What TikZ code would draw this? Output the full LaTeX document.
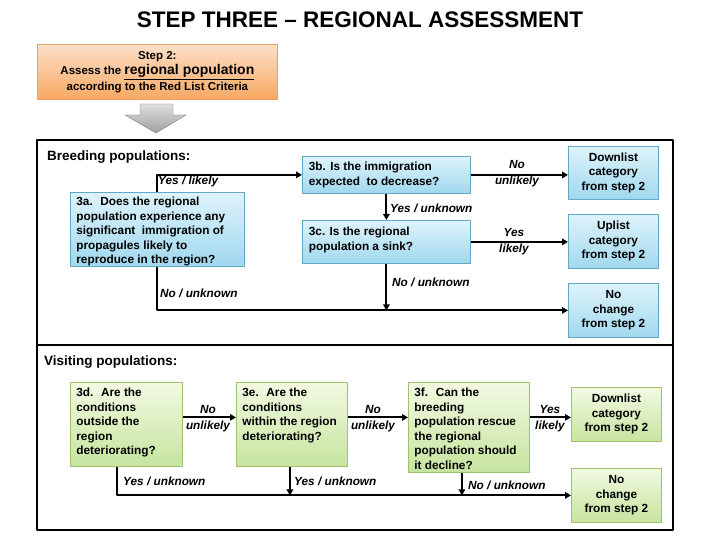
\documentclass[tikz,border=0pt]{standalone}
\usepackage{fontspec}
\setmainfont{Liberation Sans}
\usetikzlibrary{arrows.meta}
\definecolor{bluetop}{RGB}{222,243,251}
\definecolor{bluebot}{RGB}{160,216,238}
\definecolor{blueedge}{RGB}{100,168,200}
\definecolor{greentop}{RGB}{242,249,226}
\definecolor{greenbot}{RGB}{198,228,158}
\definecolor{greenedge}{RGB}{158,194,110}
\definecolor{orangetop}{RGB}{252,224,200}
\definecolor{orangebot}{RGB}{247,168,98}
\definecolor{orangeedge}{RGB}{236,160,100}
\definecolor{greytop}{RGB}{222,222,222}
\definecolor{greybot}{RGB}{160,160,160}
\definecolor{greyedge}{RGB}{120,120,120}
\newcommand{\boxfont}{\fontsize{11.8}{14.5}\selectfont\bfseries}
\newcommand{\qtext}[3]{\parbox[c][#2pt][t]{#1pt}{\raggedright #3}}
\begin{document}
\begin{tikzpicture}[x=1pt, y=-1pt, line join=round, >={Triangle[length=6pt,width=6.5pt]}]
\tikzset{
  box/.style={draw, line width=0.8pt, anchor=north west, inner sep=0pt, font=\boxfont},
  bluebox/.style={box, draw=blueedge, top color=bluetop, bottom color=bluebot},
  greenbox/.style={box, draw=greenedge, top color=greentop, bottom color=greenbot},
  resblue/.style={bluebox, align=center, minimum width=90, minimum height=53},
  resgreen/.style={greenbox, align=center, minimum width=90, minimum height=54},
  stepbox/.style={box, draw=orangeedge, top color=orangetop, bottom color=orangebot, align=center,
    font=\fontsize{11.5}{15.5}\selectfont\bfseries},
  heading/.style={anchor=west, inner sep=0pt, font=\fontsize{13.5}{16}\selectfont\bfseries},
  lbl/.style={anchor=west, inner sep=0pt, font=\fontsize{11.8}{14}\selectfont\bfseries\itshape},
  lbltwo/.style={inner sep=0pt, align=center, font=\fontsize{11.8}{16}\selectfont\bfseries\itshape},
  conn/.style={line width=2pt, ->}
}
\useasboundingbox[fill=white] (0,0) rectangle (720,540);

% title and step 2
\node[font=\fontsize{22.5}{26}\selectfont\bfseries] (title) at (360,20) {STEP THREE – REGIONAL ASSESSMENT};
\node[stepbox, minimum width=240, minimum height=55] (step2) at (37,44)
  {Step 2:\\Assess the {\fontsize{14}{15.5}\selectfont\underline{regional population}}\\according to the Red List Criteria};
\draw[draw=greyedge, top color=greytop, bottom color=greybot] (140,104) -- (173,104) -- (173,115) -- (186,115)
  -- (156,133) -- (125,115) -- (140,115) -- cycle;

% frames
\draw[line width=2pt] (37,140) rectangle (673,345);
\draw[line width=2pt] (37,345) rectangle (673,530);

% breeding populations
\node[heading] (hbreed) at (47,157) {Breeding populations:};
\node[bluebox, minimum width=174, minimum height=74] (q3a) at (70,192)
  {\qtext{162}{64}{3a.~ Does the regional\\population experience any\\significant~ immigration of\\propagules likely to\\reproduce in the region?}};
\node[bluebox, minimum width=168, minimum height=37] (q3b) at (302,156)
  {\qtext{155}{25}{3b. Is the immigration\\expected~ to decrease?}};
\node[bluebox, minimum width=168, minimum height=43] (q3c) at (302,220)
  {\qtext{155}{29}{3c. Is the regional\\population a sink?}};
\node[resblue] (dl1) at (568,146) {Downlist\\category\\from step 2};
\node[resblue, minimum height=54] (ul1) at (568,214) {Uplist\\category\\from step 2};
\node[resblue, minimum height=54] (nc1) at (568,283) {No\\change\\from step 2};

\draw[conn] (q3a.north) |- (q3b.west);
\draw[conn] (q3b.east) -- (q3b.east -| dl1.west);
\draw[conn] (q3b.south) -- (q3c.north);
\draw[conn] (q3c.east) -- (q3c.east -| ul1.west);
\draw[conn] (q3a.south) |- (nc1.west);
\draw[conn] (q3c.south) -- (q3c.south |- nc1.west);

\node[lbl] (l3ay) at (158,181) {Yes / likely};
\node[lbltwo] (l3bn) at (517,174) {No\\unlikely};
\node[lbl] (l3by) at (390,208) {Yes / unknown};
\node[lbltwo] (l3cy) at (514,242) {Yes\\likely};
\node[lbl] (l3cn) at (392,282) {No / unknown};
\node[lbl] (l3an) at (160,293) {No / unknown};

% visiting populations
\node[heading] (hvisit) at (44,362) {Visiting populations:};
\node[greenbox, minimum width=112, minimum height=84] (q3d) at (70,382)
  {\qtext{100}{72}{3d.~ Are the\\conditions\\outside the\\region\\deteriorating?}};
\node[greenbox, minimum width=111, minimum height=84] (q3e) at (236,382)
  {\qtext{99}{72}{3e.~ Are the\\conditions\\within the region\\deteriorating?}};
\node[greenbox, minimum width=121, minimum height=90] (q3f) at (408,382)
  {\qtext{109}{78}{3f.~ Can the\\breeding\\population rescue\\the regional\\population should\\it decline?}};
\node[resgreen] (dl2) at (571,387) {Downlist\\category\\from step 2};
\node[resgreen] (nc2) at (571,468) {No\\change\\from step 2};

\draw[conn] ([yshift=7pt]q3d.east) -- ([yshift=7pt]q3d.east -| q3e.west);
\draw[conn] ([yshift=7pt]q3e.east) -- ([yshift=7pt]q3e.east -| q3f.west);
\draw[conn] ([yshift=10pt]q3f.east) -- ([yshift=10pt]q3f.east -| dl2.west);
\draw[conn] ([xshift=-9pt]q3d.south) |- (nc2.west);
\draw[conn] ([xshift=-2pt]q3e.south) -- ([xshift=-2pt]q3e.south |- nc2.west);
\draw[conn] ([xshift=-7pt]q3f.south) -- ([xshift=-7pt]q3f.south |- nc2.west);

\node[lbltwo] (l3dn) at (208,419) {No\\unlikely};
\node[lbltwo] (l3en) at (373,419) {No\\unlikely};
\node[lbltwo] (l3fy) at (550,419) {Yes\\likely};
\node[lbl] (l3dy) at (123,481) {Yes / unknown};
\node[lbl] (l3ey) at (294,481) {Yes / unknown};
\node[lbl] (l3fn) at (468,485) {No / unknown};
\end{tikzpicture}
\end{document}
